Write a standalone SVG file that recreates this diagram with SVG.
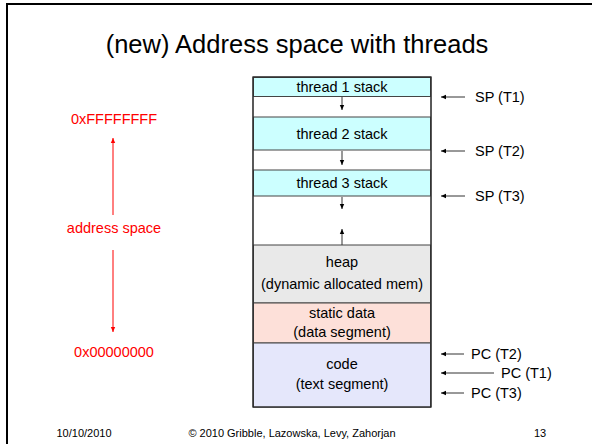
<svg xmlns="http://www.w3.org/2000/svg" width="592" height="444" viewBox="0 0 592 444">
<defs>
<style>
text{font-family:"Liberation Sans",Arial,sans-serif;}
.lbl{font-size:14.5px;fill:#000;text-anchor:middle;}
.side{font-size:14.5px;fill:#000;}
.red{font-size:14.5px;fill:#ff0000;text-anchor:middle;}
.foot{font-size:11px;fill:#000;}
.sep{stroke:#444;stroke-width:1;}
.conn{stroke:#333;stroke-width:1;fill:none;}
.rconn{stroke:#ff0000;stroke-width:1;fill:none;}
</style>
<marker id="ah" markerWidth="6" markerHeight="6" refX="5" refY="3" orient="auto" markerUnits="userSpaceOnUse">
<path d="M0,0.8 L5,3 L0,5.2 Z" fill="#000"/>
</marker>
<marker id="rah" markerWidth="6" markerHeight="6" refX="5" refY="3" orient="auto" markerUnits="userSpaceOnUse">
<path d="M0,0.8 L5,3 L0,5.2 Z" fill="#ff0000"/>
</marker>
</defs>
<rect x="0" y="0" width="592" height="444" fill="#fff"/>
<rect x="7" y="4" width="600" height="460" fill="none" stroke="#000" stroke-width="2"/>
<text x="297" y="53" font-size="25.5" text-anchor="middle" fill="#000">(new) Address space with threads</text>

<g id="memory">
<rect x="253" y="77" width="178" height="330" fill="#fff" stroke="#222" stroke-width="1"/>
<g id="t1stack"><rect x="253.5" y="77.5" width="177" height="19" fill="#ccffff" class="sep"/><text class="lbl" x="342" y="92">thread 1 stack</text></g>
<g id="t2stack"><rect x="253.5" y="117" width="177" height="33" fill="#ccffff" class="sep"/><text class="lbl" x="342" y="139">thread 2 stack</text></g>
<g id="t3stack"><rect x="253.5" y="170" width="177" height="26" fill="#ccffff" class="sep"/><text class="lbl" x="342" y="188">thread 3 stack</text></g>
<g id="heap"><rect x="253.5" y="245" width="177" height="58" fill="#e9e9e9" class="sep"/><text class="lbl" x="342" y="267">heap</text><text class="lbl" x="342" y="289">(dynamic allocated mem)</text></g>
<g id="static"><rect x="253.5" y="303" width="177" height="40" fill="#fde0d9" class="sep"/><text class="lbl" x="342" y="318">static data</text><text class="lbl" x="342" y="337">(data segment)</text></g>
<g id="code"><rect x="253.5" y="343" width="177" height="64" fill="#e5e7fb" class="sep"/><text class="lbl" x="342" y="369">code</text><text class="lbl" x="342" y="389">(text segment)</text></g>
<rect x="253" y="77" width="178" height="330" fill="none" stroke="#222" stroke-width="1"/>
</g>

<g id="connectors">
<line class="conn" x1="342" y1="97" x2="342" y2="110" marker-end="url(#ah)"/>
<line class="conn" x1="342" y1="151" x2="342" y2="165" marker-end="url(#ah)"/>
<line class="conn" x1="342" y1="197" x2="342" y2="209" marker-end="url(#ah)"/>
<line class="conn" x1="342" y1="245" x2="342" y2="229" marker-end="url(#ah)"/>
<line class="conn" stroke="#666" x1="465" y1="97" x2="441" y2="97" marker-end="url(#ah)"/>
<line class="conn" stroke="#666" x1="465" y1="151" x2="441" y2="151" marker-end="url(#ah)"/>
<line class="conn" stroke="#666" x1="465" y1="196" x2="441" y2="196" marker-end="url(#ah)"/>
<line class="conn" stroke="#666" x1="464" y1="354" x2="441" y2="354" marker-end="url(#ah)"/>
<line class="conn" stroke="#666" x1="494" y1="373" x2="441" y2="373" marker-end="url(#ah)"/>
<line class="conn" stroke="#666" x1="464" y1="393" x2="441" y2="393" marker-end="url(#ah)"/>
<line class="rconn" x1="113" y1="215" x2="113" y2="138" marker-end="url(#rah)"/>
<line class="rconn" x1="113" y1="250" x2="113" y2="332" marker-end="url(#rah)"/>
</g>

<g id="pointers">
<text class="side" x="475" y="102">SP (T1)</text>
<text class="side" x="475" y="156">SP (T2)</text>
<text class="side" x="475" y="201">SP (T3)</text>
<text class="side" x="471" y="359">PC (T2)</text>
<text class="side" x="501" y="378">PC (T1)</text>
<text class="side" x="471" y="398">PC (T3)</text>
</g>

<g id="addr">
<text class="red" x="114" y="124">0xFFFFFFFF</text>
<text class="red" x="114" y="233">address space</text>
<text class="red" x="114" y="357">0x00000000</text>
</g>

<g id="footer">
<text class="foot" x="84" y="437" text-anchor="middle">10/10/2010</text>
<text class="foot" x="292" y="437" text-anchor="middle">© 2010 Gribble, Lazowska, Levy, Zahorjan</text>
<text class="foot" x="540" y="437" text-anchor="middle">13</text>
</g>
</svg>
